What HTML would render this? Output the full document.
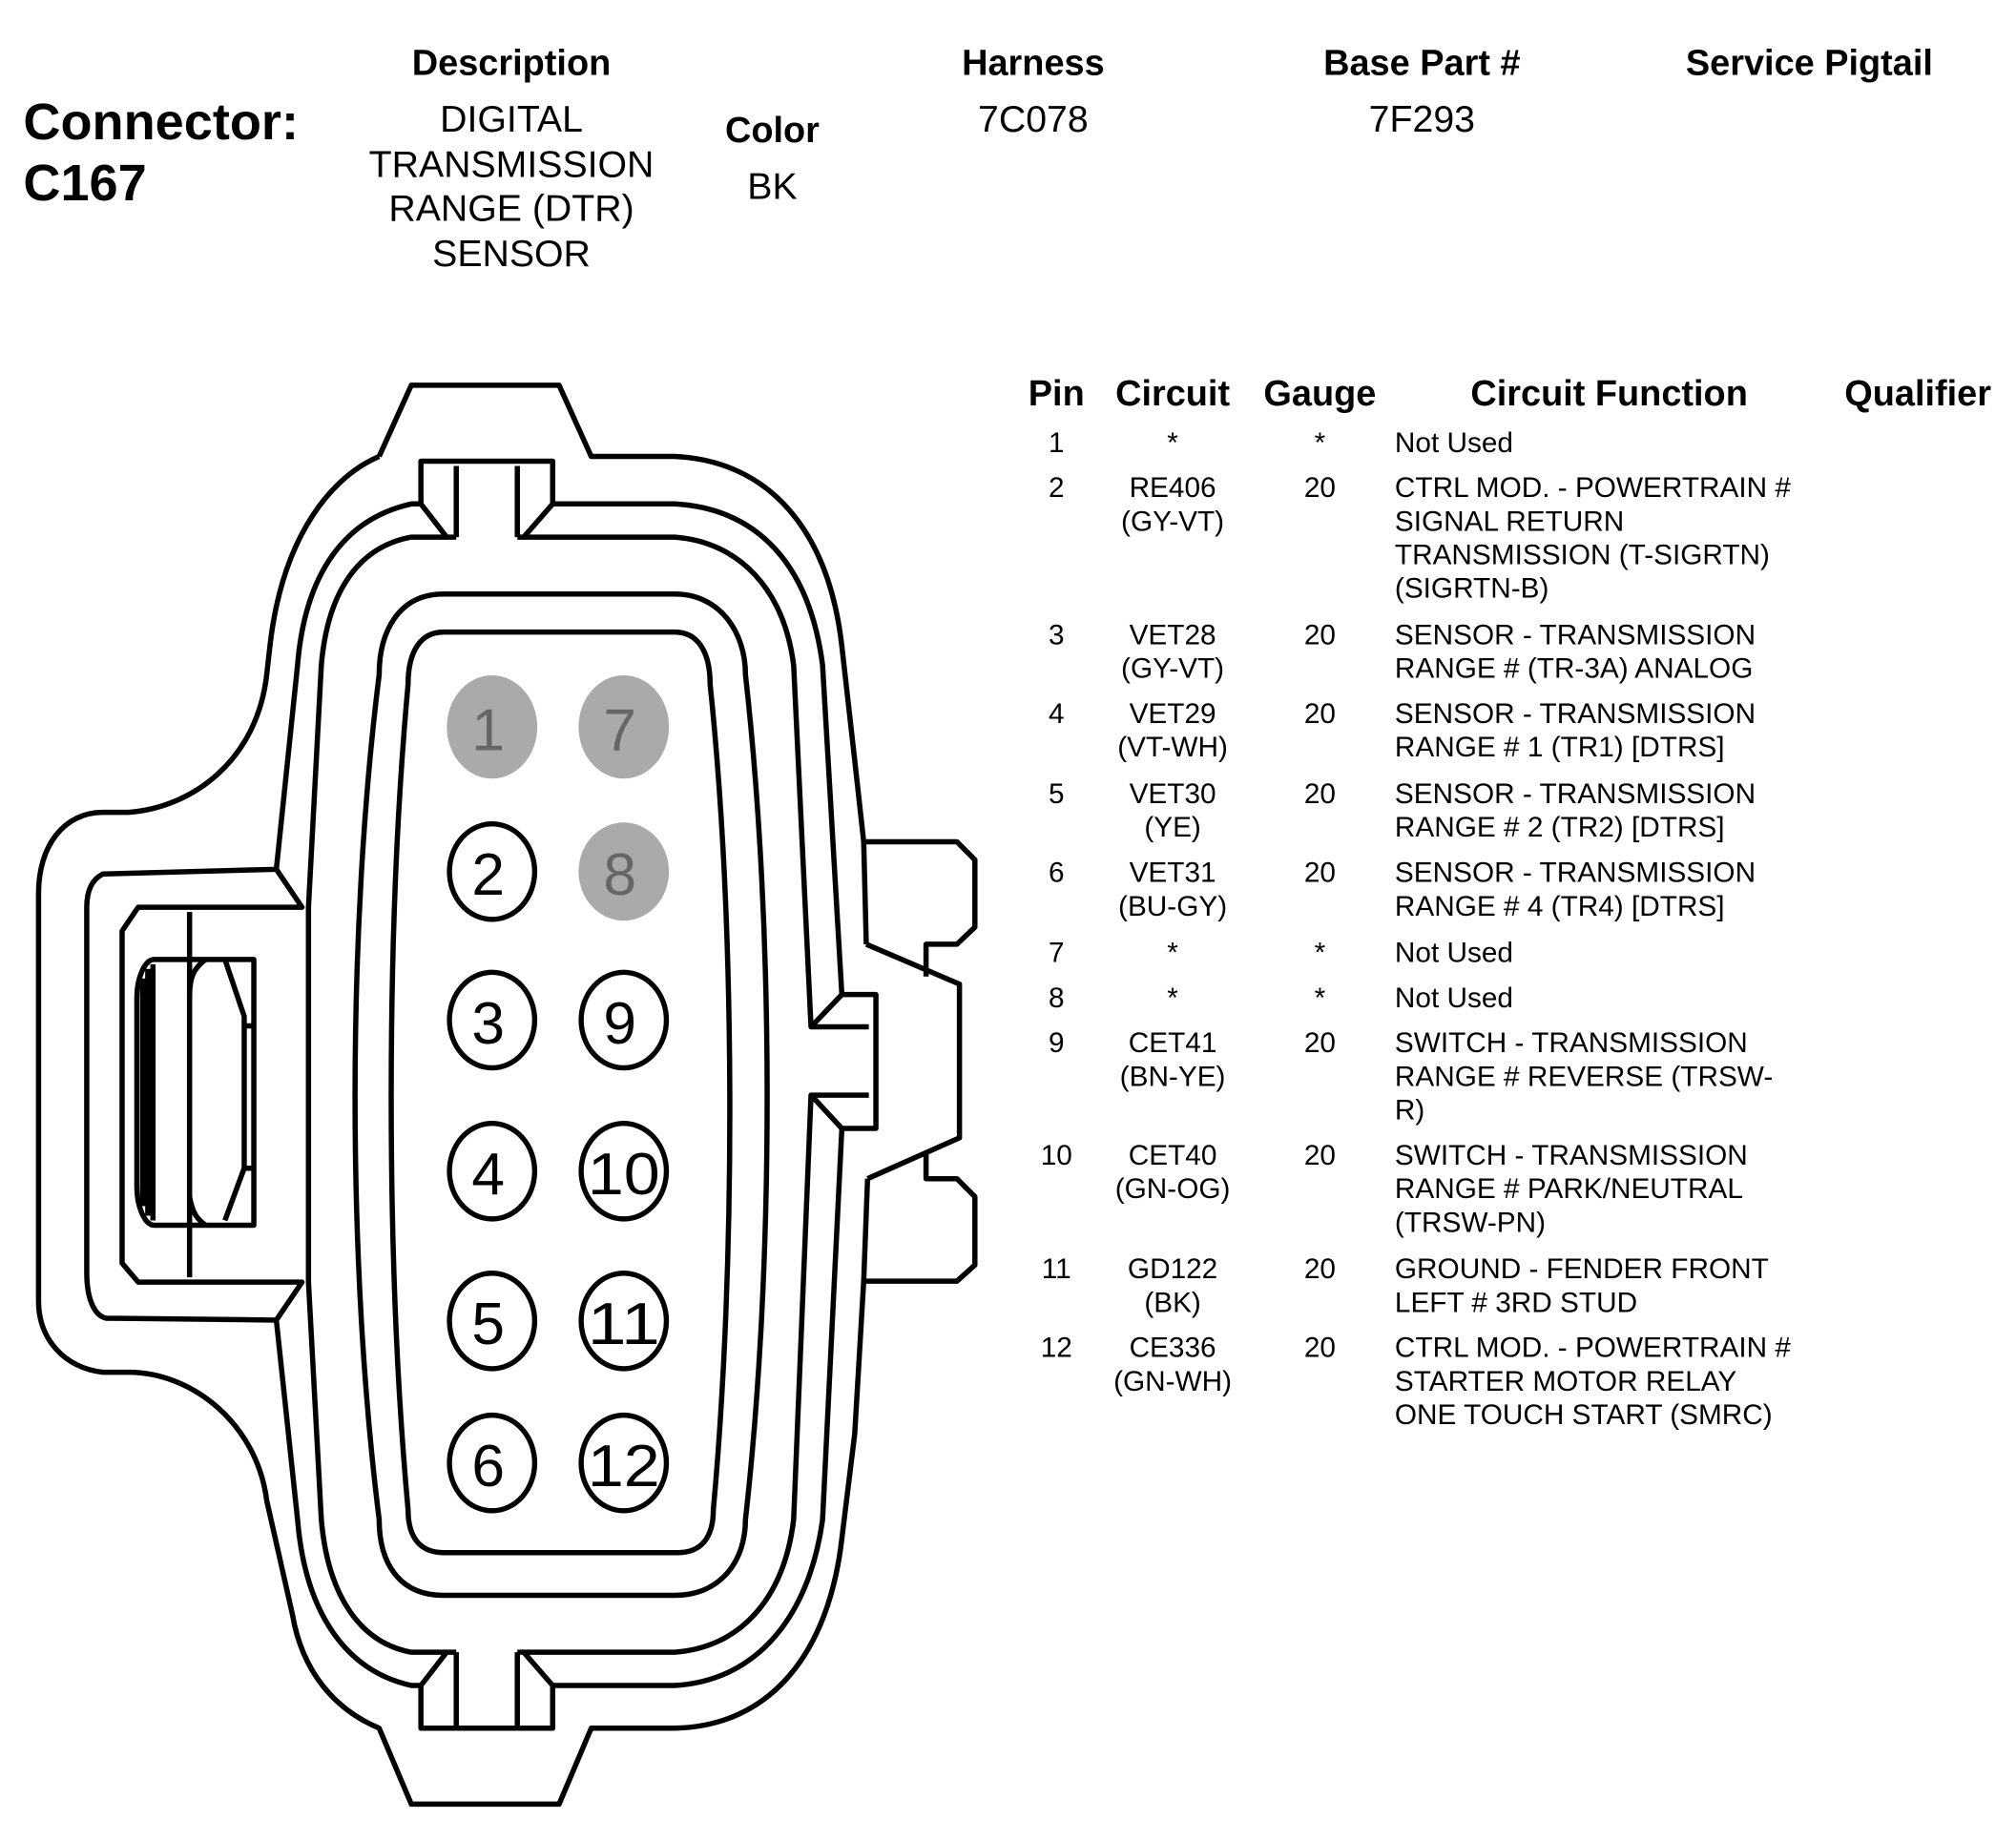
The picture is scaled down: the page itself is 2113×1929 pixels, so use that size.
<!DOCTYPE html>
<html><head><meta charset="utf-8"><style>
html,body{margin:0;padding:0;background:#fff}
svg{display:block}
text{font-family:"Liberation Sans",Arial,sans-serif;fill:#000}
.h{font-weight:bold;font-size:28px}
.r{font-size:22px}
.c path,.c ellipse,.c line{vector-effect:non-scaling-stroke}
</style></head><body>
<svg width="2113" height="1929" viewBox="0 0 1561 1425" preserveAspectRatio="none">
<rect width="1561" height="1425" fill="#fff"/>
<!-- header -->
<text x="18" y="108" style="font-weight:bold;font-size:40px">Connector:</text>
<text x="18" y="155" style="font-weight:bold;font-size:40px">C167</text>
<g text-anchor="middle">
<text class="h" x="396" y="58">Description</text>
<text class="r" x="396" y="102" style="font-size:29px">DIGITAL</text>
<text class="r" x="396" y="137" style="font-size:29px">TRANSMISSION</text>
<text class="r" x="396" y="171" style="font-size:29px">RANGE (DTR)</text>
<text class="r" x="396" y="206" style="font-size:29px">SENSOR</text>
<text class="h" x="598" y="110">Color</text>
<text class="r" x="598" y="154" style="font-size:29px">BK</text>
<text class="h" x="800" y="58">Harness</text>
<text class="r" x="800" y="102" style="font-size:29px">7C078</text>
<text class="h" x="1101" y="58">Base Part #</text>
<text class="r" x="1101" y="102" style="font-size:29px">7F293</text>
<text class="h" x="1401" y="58">Service Pigtail</text>
<text class="h" x="818" y="314">Pin</text>
<text class="h" x="908" y="314">Circuit</text>
<text class="h" x="1022" y="314">Gauge</text>
<text class="h" x="1246" y="314">Circuit Function</text>
<text class="h" x="1485" y="314">Qualifier</text>
</g>
<g class="r" transform="translate(0,-2)">
<g text-anchor="middle">
<text x="818" y="352">1</text><text x="908" y="352">*</text><text x="1022" y="352">*</text>
<text x="818" y="387">2</text><text x="908" y="387">RE406</text><text x="908" y="413">(GY-VT)</text><text x="1022" y="387">20</text>
<text x="818" y="501">3</text><text x="908" y="501">VET28</text><text x="908" y="527">(GY-VT)</text><text x="1022" y="501">20</text>
<text x="818" y="562">4</text><text x="908" y="562">VET29</text><text x="908" y="588">(VT-WH)</text><text x="1022" y="562">20</text>
<text x="818" y="624">5</text><text x="908" y="624">VET30</text><text x="908" y="650">(YE)</text><text x="1022" y="624">20</text>
<text x="818" y="685">6</text><text x="908" y="685">VET31</text><text x="908" y="711">(BU-GY)</text><text x="1022" y="685">20</text>
<text x="818" y="747">7</text><text x="908" y="747">*</text><text x="1022" y="747">*</text>
<text x="818" y="782">8</text><text x="908" y="782">*</text><text x="1022" y="782">*</text>
<text x="818" y="817">9</text><text x="908" y="817">CET41</text><text x="908" y="843">(BN-YE)</text><text x="1022" y="817">20</text>
<text x="818" y="904">10</text><text x="908" y="904">CET40</text><text x="908" y="930">(GN-OG)</text><text x="1022" y="904">20</text>
<text x="818" y="992">11</text><text x="908" y="992">GD122</text><text x="908" y="1018">(BK)</text><text x="1022" y="992">20</text>
<text x="818" y="1053">12</text><text x="908" y="1053">CE336</text><text x="908" y="1079">(GN-WH)</text><text x="1022" y="1053">20</text>
</g>
<text x="1080" y="352">Not Used</text>
<text x="1080" y="387">CTRL MOD. - POWERTRAIN #</text>
<text x="1080" y="413">SIGNAL RETURN</text>
<text x="1080" y="439">TRANSMISSION (T-SIGRTN)</text>
<text x="1080" y="465">(SIGRTN-B)</text>
<text x="1080" y="501">SENSOR - TRANSMISSION</text>
<text x="1080" y="527">RANGE # (TR-3A) ANALOG</text>
<text x="1080" y="562">SENSOR - TRANSMISSION</text>
<text x="1080" y="588">RANGE # 1 (TR1) [DTRS]</text>
<text x="1080" y="624">SENSOR - TRANSMISSION</text>
<text x="1080" y="650">RANGE # 2 (TR2) [DTRS]</text>
<text x="1080" y="685">SENSOR - TRANSMISSION</text>
<text x="1080" y="711">RANGE # 4 (TR4) [DTRS]</text>
<text x="1080" y="747">Not Used</text>
<text x="1080" y="782">Not Used</text>
<text x="1080" y="817">SWITCH - TRANSMISSION</text>
<text x="1080" y="843">RANGE # REVERSE (TRSW-</text>
<text x="1080" y="869">R)</text>
<text x="1080" y="904">SWITCH - TRANSMISSION</text>
<text x="1080" y="930">RANGE # PARK/NEUTRAL</text>
<text x="1080" y="956">(TRSW-PN)</text>
<text x="1080" y="992">GROUND - FENDER FRONT</text>
<text x="1080" y="1018">LEFT # 3RD STUD</text>
<text x="1080" y="1053">CTRL MOD. - POWERTRAIN #</text>
<text x="1080" y="1079">STARTER MOTOR RELAY</text>
<text x="1080" y="1105">ONE TOUCH START (SMRC)</text>
</g>
<!-- connector (zoom coordinates mapped) -->
<g class="c" transform="translate(0,280) scale(0.4976,0.735)" fill="none" stroke="#000" stroke-width="5.5" stroke-linejoin="round">
<!-- outer body -->
<path d="M590,100 L640,25 L870,25 L920,100 L1050,100 C1200,105 1290,180 1310,300 L1330,420 L1344,506 L1489,506 L1517,525 L1517,596 L1489,614 L1441,614 L1441,648 M1348,614 L1493,656 L1493,818 L1350,861 M1441,834 L1441,861 L1489,861 L1517,880 L1517,952 L1489,969 L1344,969 L1330,1130 L1310,1240 C1290,1360 1200,1438 1050,1440 L920,1440 L870,1520 L640,1520 L590,1440 C520,1420 470,1380 455,1320 L415,1200 C400,1120 300,1065 200,1065 L160,1065 C100,1060 60,1030 60,990 L60,560 C60,510 100,475 160,475 L200,475 C300,470 400,420 415,330 L420,300 C440,180 520,120 590,100"/>
<path d="M1344,506 L1348,614 M1350,861 L1344,969"/>
<!-- notches -->
<path d="M655,150 L655,105 L860,105 L860,150 M710,110 L710,185 M805,110 L805,185 M655,150 L695,185 L710,185 M860,150 L815,185 L805,185"/>
<path d="M655,1395 L655,1440 L860,1440 L860,1395 M710,1440 L710,1360 M805,1440 L805,1360 M655,1395 L695,1360 L710,1360 M860,1395 L815,1360 L805,1360"/>
<!-- ring 2 left -->
<path d="M655,150 L640,150 C540,165 475,220 463,320 L430,535 L160,540 C145,545 135,555 135,575 L135,960 C135,985 145,1005 165,1008 L430,1010 L463,1220 C475,1320 540,1380 640,1395 L655,1395"/>
<path d="M695,185 L640,185 C560,195 510,240 500,320 L480,575 L480,970 L500,1220 C510,1300 560,1350 640,1360 L695,1360"/>
<path d="M430,535 L470,575 L215,575 L190,600 L190,950 L215,970 L470,970 L430,1010"/>
<!-- ring 2 right -->
<path d="M860,150 L1050,150 C1180,155 1260,215 1280,320 L1310,667 L1363,667 L1363,808 L1310,808 L1280,1220 C1260,1320 1180,1390 1050,1395 L860,1395"/>
<path d="M815,185 L1050,185 C1150,190 1220,240 1235,320 L1262,701 L1310,667 M1262,701 L1352,701 M1262,773 L1352,773 M1310,808 L1262,773 L1235,1220 C1220,1305 1150,1355 1050,1360 L815,1360"/>
<!-- latch -->
<path d="M295,580 L295,965"/>
<path d="M240,630 L395,630 L395,910 L240,910 C225,910 213,890 213,870 L213,670 C213,650 225,630 240,630 Z"/>
<path d="M222,650 L222,890 M230,640 L230,900 M238,635 L238,905"/>
<path d="M320,630 C300,640 295,650 295,670 M350,630 L380,690 L380,850 L350,905 M380,700 L395,700 M380,850 L395,850 M295,880 C300,900 310,905 320,910"/>
<!-- ring 3 -->
<path d="M690,245 L1050,245 C1120,245 1160,285 1160,330 C1205,600 1205,950 1160,1220 C1160,1265 1120,1300 1050,1300 L690,1300 C620,1300 590,1265 590,1220 C540,950 540,600 590,330 C590,285 620,245 690,245 Z"/>
<!-- ring 4 -->
<path d="M690,285 L1050,285 C1085,285 1105,305 1105,340 C1145,600 1145,950 1110,1210 C1110,1240 1090,1255 1055,1255 L690,1255 C655,1255 635,1240 635,1210 C600,950 600,600 635,340 C635,305 655,285 690,285 Z"/>
</g>
<g stroke="#000" stroke-width="4" fill="#fff">
<ellipse cx="381" cy="675" rx="33" ry="37"/><ellipse cx="381" cy="790" rx="33" ry="37"/>
<ellipse cx="381" cy="907" rx="33" ry="37"/><ellipse cx="381" cy="1023" rx="33" ry="37"/>
<ellipse cx="381" cy="1133" rx="33" ry="37"/><ellipse cx="483" cy="790" rx="33" ry="37"/>
<ellipse cx="483" cy="907" rx="33" ry="37"/><ellipse cx="483" cy="1023" rx="33" ry="37"/>
<ellipse cx="483" cy="1133" rx="33" ry="37"/>
</g>
<g fill="#aaa"><ellipse cx="381" cy="563" rx="35" ry="40"/><ellipse cx="483" cy="563" rx="35" ry="40"/><ellipse cx="483" cy="675" rx="35" ry="38"/></g>
<g text-anchor="middle" style="font-size:46px">
<text x="378" y="581" style="fill:#666">1</text><text x="480" y="581" style="fill:#666">7</text>
<text x="480" y="693" style="fill:#666">8</text>
<text x="378" y="693">2</text><text x="378" y="808">3</text><text x="378" y="925">4</text><text x="378" y="1041">5</text><text x="378" y="1151">6</text>
<text x="480" y="808">9</text><text x="483" y="925" textLength="56" lengthAdjust="spacingAndGlyphs">10</text><text x="483" y="1041" textLength="56" lengthAdjust="spacingAndGlyphs">11</text><text x="483" y="1151" textLength="56" lengthAdjust="spacingAndGlyphs">12</text>
</g>
</svg>
</body></html>
